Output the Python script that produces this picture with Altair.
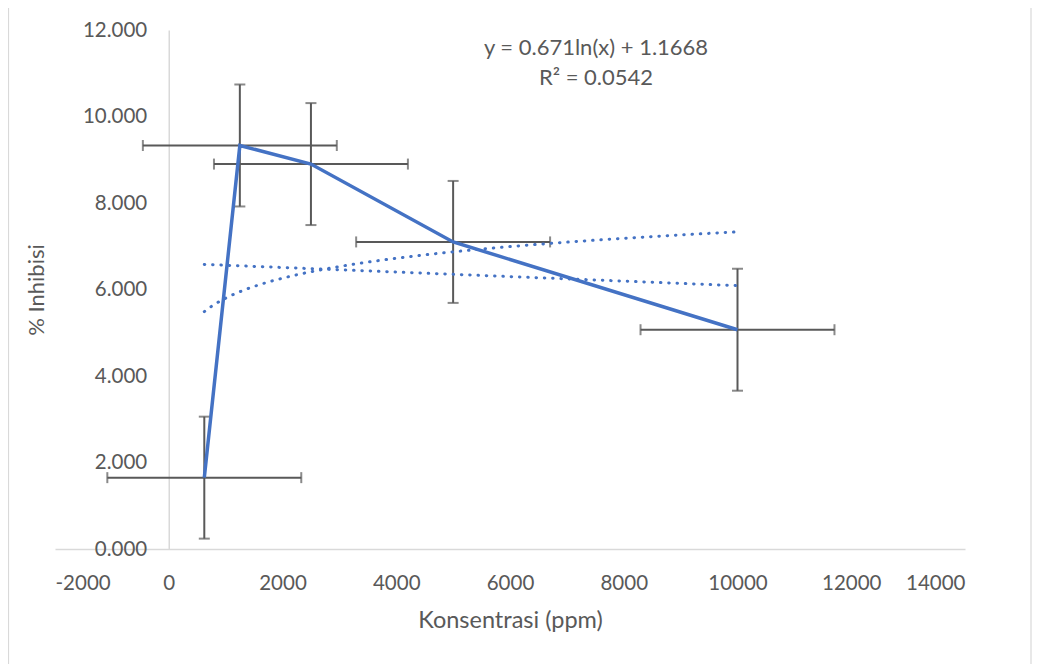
import altair as alt
import pandas as pd

# Data
konsentrasi = [625, 1250, 2500, 5000, 10000]
inhibisi = [1.65, 9.33, 8.90, 7.10, 5.07]
y_err = [1.41, 1.41, 1.41, 1.41, 1.41]
x_err = [1705, 1705, 1705, 1705, 1705]
x_ticks = [-2000, 0, 2000, 4000, 6000, 8000, 10000, 12000, 14000]
y_ticks = [0, 2, 4, 6, 8, 10, 12]
eq_line1 = "y = 0.671ln(x) + 1.1668"
eq_line2 = "R² = 0.0542"

df = pd.DataFrame({"x": konsentrasi, "y": inhibisi, "ye": y_err, "xe": x_err})
df["ylo"] = df["y"] - df["ye"]
df["yhi"] = df["y"] + df["ye"]
df["xlo"] = df["x"] - df["xe"]
df["xhi"] = df["x"] + df["xe"]

FONT = "Lato"
GREY_TXT = "#595959"
BLUE = "#4472C4"
ERR = "#595959"
AX = "#D9D9D9"

W, H = 910, 519
xscale = alt.Scale(domain=[-2000, 14000], nice=False, zero=False)
yscale = alt.Scale(domain=[0, 12], nice=False)

x_axis = alt.Axis(values=x_ticks, grid=False, ticks=False, domainColor=AX, domainWidth=1.5,
                  labelExpr="'' + datum.value",
                  labelFont=FONT, labelFontSize=20.5, labelColor=GREY_TXT, labelPadding=24,
                  title="Konsentrasi (ppm)", titleFont=FONT, titleFontSize=23.5,
                  titleFontWeight="normal", titleColor=GREY_TXT,
                  titleX=W / 2, titleY=71, titleBaseline="middle", titleAlign="center")
y_axis = alt.Axis(values=y_ticks, format=".3f", grid=False, ticks=False, domainColor=AX,
                  domainWidth=1.5, offset=-(W * 2000 / 16000),
                  labelFont=FONT, labelFontSize=20.5, labelColor=GREY_TXT, labelPadding=22,
                  title="% Inhibisi", titleFont=FONT, titleFontSize=22,
                  titleFontWeight="normal", titleColor=GREY_TXT,
                  titleX=-132, titleY=H / 2, titleAngle=270, titleBaseline="middle",
                  titleAlign="center")

base = alt.Chart(df)

vbar = base.mark_rule(color=ERR, strokeWidth=2).encode(
    x=alt.X("x:Q", scale=xscale, axis=x_axis),
    y=alt.Y("ylo:Q", scale=yscale, axis=y_axis),
    y2="yhi:Q")
vcap_lo = base.mark_tick(color=ERR, orient="horizontal", size=11, thickness=2).encode(
    x="x:Q", y="ylo:Q")
vcap_hi = base.mark_tick(color=ERR, orient="horizontal", size=11, thickness=2).encode(
    x="x:Q", y="yhi:Q")
hbar = base.mark_rule(color=ERR, strokeWidth=2).encode(x="xlo:Q", x2="xhi:Q", y="y:Q")
hcap_lo = base.mark_tick(color=ERR, orient="vertical", size=11, thickness=2).encode(
    x="xlo:Q", y="y:Q")
hcap_hi = base.mark_tick(color=ERR, orient="vertical", size=11, thickness=2).encode(
    x="xhi:Q", y="y:Q")

trend_log = base.transform_regression("x", "y", method="log").mark_line(
    color=BLUE, strokeWidth=3, strokeDash=[0.5, 7.8], strokeCap="round").encode(
    x="x:Q", y="y:Q")
trend_lin = base.transform_regression("x", "y", method="linear").mark_line(
    color=BLUE, strokeWidth=3, strokeDash=[0.5, 7.8], strokeCap="round").encode(
    x="x:Q", y="y:Q")

line = base.mark_line(color=BLUE, strokeWidth=3.5).encode(x="x:Q", y="y:Q")

ann_df = pd.DataFrame({"t": [0]})
ann1 = alt.Chart(ann_df).mark_text(font=FONT, fontSize=22, color=GREY_TXT,
                                   align="center", baseline="middle").encode(
    x=alt.value(541), y=alt.value(18), text=alt.value(eq_line1))
ann2 = alt.Chart(ann_df).mark_text(font=FONT, fontSize=22, color=GREY_TXT,
                                   align="center", baseline="middle").encode(
    x=alt.value(541), y=alt.value(48), text=alt.value(eq_line2))

# Outer chart-area border (Excel style)
frame = alt.Chart(ann_df).mark_rect(fill=None, stroke=AX, strokeWidth=1.2).encode(
    x=alt.value(-46.5), x2=alt.value(976), y=alt.value(-25.5), y2=alt.value(636))

chart = alt.layer(frame, vbar, hbar, vcap_lo, vcap_hi, hcap_lo, hcap_hi,
                  trend_log, trend_lin, line, ann1, ann2).properties(
    width=W, height=H,
    autosize=alt.AutoSizeParams(type="none"),
    padding={"left": 47, "top": 22, "right": 67, "bottom": 115},
    background="white",
).configure_view(stroke=None)

chart.save("out.html", embed_options={"renderer": "svg", "actions": False})
